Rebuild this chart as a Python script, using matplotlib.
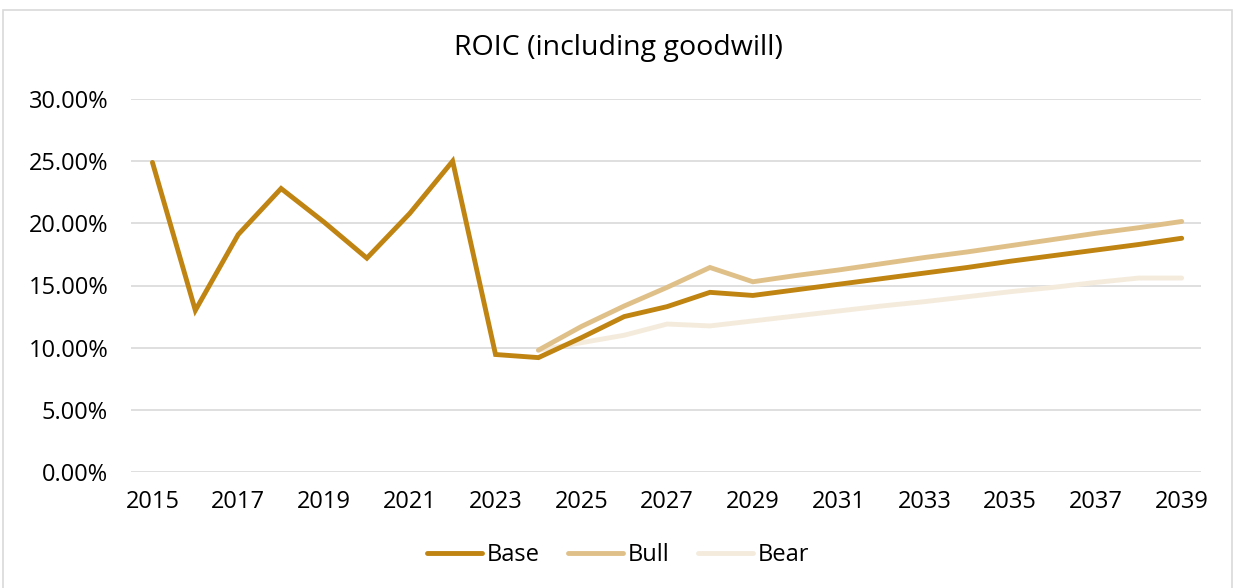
import matplotlib
matplotlib.use("Agg")
import matplotlib.pyplot as plt
from matplotlib.patches import Rectangle
from matplotlib.ticker import FuncFormatter, MultipleLocator

plt.rcParams['font.family'] = ['Open Sans', 'DejaVu Sans']

base_years = list(range(2015, 2040))
base_vals = [24.9, 13.0, 19.1, 22.8, 20.1, 17.2, 20.8, 25.0, 9.45, 9.2,
             10.8, 12.5, 13.3, 14.45, 14.2, 14.65, 15.1, 15.55, 16.0, 16.45,
             16.95, 17.4, 17.85, 18.3, 18.8]
scen_years = list(range(2024, 2040))
bull_vals = [9.8, 11.7, 13.35, 14.85, 16.45, 15.3, 15.8, 16.25, 16.75, 17.25,
             17.7, 18.2, 18.7, 19.2, 19.65, 20.15]
bear_vals = [9.8, 10.4, 11.0, 11.9, 11.75, 12.15, 12.55, 12.95, 13.35, 13.7,
             14.1, 14.5, 14.85, 15.25, 15.6, 15.6]

c_base = '#BF8412'
c_bull = '#E0C089'
c_bear = '#F4EBDC'

fig = plt.figure(figsize=(12.36, 5.88), dpi=100)
ax = fig.add_axes([131/1236, 1-472/588, (1201-131)/1236, (472-99)/588])

fig.patches.append(Rectangle((3/1236, -0.01), 1229/1236, 1-10/588+0.01,
                             transform=fig.transFigure, fill=False,
                             edgecolor='#D9D9D9', linewidth=1.2))

lw = 3.5
ax.plot(base_years, base_vals, color=c_base, lw=lw, solid_capstyle='round', solid_joinstyle='miter', label='Base', zorder=5)
ax.plot(scen_years, bull_vals, color=c_bull, lw=lw, solid_capstyle='round', solid_joinstyle='miter', label='Bull', zorder=4)
ax.plot(scen_years, bear_vals, color=c_bear, lw=lw, solid_capstyle='round', solid_joinstyle='miter', label='Bear', zorder=3)

ax.set_xlim(2014.5, 2039.45)
ax.set_ylim(0, 30)
ax.yaxis.set_major_locator(MultipleLocator(5))
ax.yaxis.set_major_formatter(FuncFormatter(lambda v, p: f"{v:.2f}%"))
ax.set_xticks(list(range(2015, 2040, 2)))
ax.grid(axis='y', color='#D9D9D9', linewidth=1.2)
ax.set_axisbelow(True)
for s in ax.spines.values():
    s.set_visible(False)
ax.tick_params(length=0, labelsize=17, colors='#000000')
ax.tick_params(axis='y', pad=16.5)
ax.tick_params(axis='x', pad=13)

fig.text(0.5, 1-48/588, 'ROIC (including goodwill)', ha='center', va='center', fontsize=20.5)

fig.legend(loc='center', bbox_to_anchor=(0.5, 1-555/588), ncol=3, frameon=False,
           fontsize=17, handlelength=2.35, handletextpad=0.18, columnspacing=1.2)

fig.savefig('out.png', dpi=100)
